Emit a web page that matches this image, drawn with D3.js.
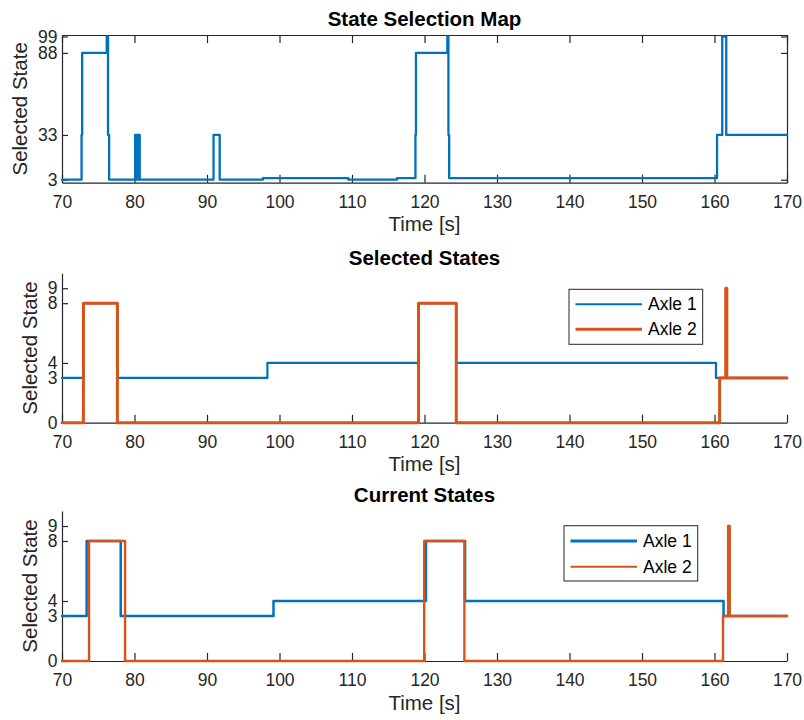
<!DOCTYPE html>
<html>
<head>
<meta charset="utf-8">
<script src="https://cdn.jsdelivr.net/npm/d3@7"></script>
<style>
  html, body { margin: 0; padding: 0; background: #fff; }
  svg { display: block; font-family: "Liberation Sans", Arial, Helvetica, sans-serif; }
</style>
</head>
<body>
<svg id="chart" width="804" height="720"></svg>
<script>
// Time axis shared by all panels
const timeDomain = [70, 170];
const timeTicks = [70, 80, 90, 100, 110, 120, 130, 140, 150, 160, 170];

// Panel 1: state selection map (step changes: time, state)
const mapTime  = [70, 72.7, 72.78, 76.17, 76.35, 76.5, 80.08, 80.2, 80.3, 80.45, 80.55, 80.72, 90.9, 91.75,
                  97.7, 109.5, 116.2, 118.75, 118.82, 123.15, 123.3, 123.4, 160.35, 161.07, 161.62, 170];
const mapState = [3, 33, 88, 99, 33, 3, 33, 3, 33, 3, 33, 3, 33, 3,
                  4, 3, 4, 33, 88, 99, 33, 4, 33, 99, 33, 33];
const mapTicks = [3, 33, 88, 99];

// Panel 2: selected states per axle
const selAxle1Time  = [70, 72.95, 77.64, 98.33, 119.18, 124.38, 160.2, 170];
const selAxle1State = [3, 8, 3, 4, 8, 4, 3, 3];
const selAxle2Time  = [70, 72.95, 77.64, 119.18, 124.38, 160.7, 161.55, 161.6, 161.65, 161.7, 170];
const selAxle2State = [0, 8, 0, 8, 0, 3, 9, 3, 9, 3, 3];

// Panel 3: current states per axle
const curAxle1Time  = [70, 73.4, 78.1, 99.17, 120.2, 125.6, 161.25, 170];
const curAxle1State = [3, 8, 3, 4, 8, 4, 3, 3];
const curAxle2Time  = [70, 73.73, 78.7, 119.96, 125.5, 161.17, 161.88, 161.95, 162.02, 162.1, 170];
const curAxle2State = [0, 8, 0, 8, 0, 3, 9, 3, 9, 3, 3];
const axleTicks = [0, 3, 4, 8, 9];

const legendLabels = ["Axle 1", "Axle 2"];
const titles = ["State Selection Map", "Selected States", "Current States"];
const xLabel = "Time [s]";
const yLabel = "Selected State";

const BLUE = "#0072BD", ORANGE = "#D95319", AXIS = "#262626";
const TICK_FONT = 17.5, LABEL_FONT = 20.5;

const svg = d3.select("#chart");
const xRange = [62, 787];

function zip(ts, vs) { return ts.map((t, i) => [t, vs[i]]); }

function panel(cfg) {
  const x = d3.scaleLinear().domain(timeDomain).range(xRange);
  const y = d3.scaleLinear().domain(cfg.yDomain).range([cfg.bottom, cfg.top]);
  const g = svg.append("g");

  // bottom axis, ticks pointing inward
  const xa = g.append("g").attr("transform", `translate(0,${cfg.bottom})`)
    .call(d3.axisBottom(x).tickValues(timeTicks).tickSize(-8).tickSizeOuter(0).tickPadding(12.5));
  // left axis
  const ya = g.append("g").attr("transform", `translate(${xRange[0]},0)`)
    .call(d3.axisLeft(y).tickValues(cfg.yTicks).tickSize(-6).tickSizeOuter(0).tickPadding(4.5));
  [xa, ya].forEach(a => {
    a.selectAll("path.domain").attr("stroke", AXIS).attr("stroke-width", 1.2);
    a.selectAll(".tick line").attr("stroke", AXIS).attr("stroke-width", 1.2);
    a.selectAll(".tick text").attr("fill", AXIS).style("font-size", TICK_FONT + "px").style("font-family", "inherit");
  });

  // boxed panel: mirrored top and right axes without labels
  if (cfg.box) {
    const ta = g.append("g").attr("transform", `translate(0,${cfg.top})`)
      .call(d3.axisTop(x).tickValues(timeTicks).tickSize(-8).tickSizeOuter(0).tickFormat(""));
    const ra = g.append("g").attr("transform", `translate(${xRange[1]},0)`)
      .call(d3.axisRight(y).tickValues(cfg.yTicks).tickSize(-6).tickSizeOuter(0).tickFormat(""));
    [ta, ra].forEach(a => {
      a.selectAll("path.domain").attr("stroke", AXIS).attr("stroke-width", 1.2);
      a.selectAll(".tick line").attr("stroke", AXIS).attr("stroke-width", 1.2);
    });
  }

  const line = d3.line().x(d => x(d[0])).y(d => y(d[1])).curve(d3.curveStepAfter);
  cfg.series.forEach(s => {
    g.append("path").datum(zip(s.t, s.v))
      .attr("d", line).attr("fill", "none")
      .attr("stroke", s.color).attr("stroke-width", s.width)
      .attr("stroke-linejoin", "round").attr("stroke-linecap", "round");
  });

  // title
  g.append("text").attr("x", (xRange[0] + xRange[1]) / 2).attr("y", cfg.titleY)
    .attr("text-anchor", "middle").attr("font-weight", "bold")
    .style("font-size", LABEL_FONT + "px").attr("fill", "#000").text(cfg.title);
  // x label
  g.append("text").attr("x", (xRange[0] + xRange[1]) / 2).attr("y", cfg.bottom + 48.5)
    .attr("text-anchor", "middle").style("font-size", LABEL_FONT + "px").attr("fill", AXIS).text(xLabel);
  // y label
  const cy = (cfg.top + cfg.bottom) / 2;
  g.append("text").attr("transform", `translate(${cfg.yLabelX},${cy}) rotate(-90)`)
    .attr("text-anchor", "middle").attr("dy", "0.35em")
    .style("font-size", LABEL_FONT + "px").attr("fill", AXIS).text(yLabel);

  if (cfg.legend) {
    const L = cfg.legend;
    const lg = g.append("g");
    lg.append("rect").attr("x", L.x).attr("y", L.y).attr("width", L.w).attr("height", L.h)
      .attr("fill", "#fff").attr("stroke", AXIS).attr("stroke-width", 1);
    cfg.series.forEach((s, i) => {
      const ry = L.y + L.row0 + i * L.rowGap;
      lg.append("line").attr("x1", L.x + 6.5).attr("x2", L.x + 73).attr("y1", ry).attr("y2", ry)
        .attr("stroke", s.color).attr("stroke-width", L.widths[i]);
      lg.append("text").attr("x", L.x + 79).attr("y", ry).attr("dy", "0.35em")
        .style("font-size", TICK_FONT + "px").attr("fill", "#000").text(legendLabels[i]);
    });
  }
}

panel({
  top: 35, bottom: 182.7, yDomain: [1, 100], yTicks: mapTicks, box: true,
  title: titles[0], titleY: 26, yLabelX: 20,
  series: [{ t: mapTime, v: mapState, color: BLUE, width: 2.3 }]
});

panel({
  top: 273.3, bottom: 422.7, yDomain: [0, 10], yTicks: axleTicks, box: false,
  title: titles[1], titleY: 265, yLabelX: 30,
  series: [
    { t: selAxle1Time, v: selAxle1State, color: BLUE, width: 2.2 },
    { t: selAxle2Time, v: selAxle2State, color: ORANGE, width: 3 }
  ],
  legend: { x: 569, y: 289.3, w: 133.7, h: 55, row0: 15, rowGap: 25, widths: [2, 3] }
});

panel({
  top: 511, bottom: 661, yDomain: [0, 10], yTicks: axleTicks, box: false,
  title: titles[2], titleY: 502, yLabelX: 30,
  series: [
    { t: curAxle1Time, v: curAxle1State, color: BLUE, width: 2.5 },
    { t: curAxle2Time, v: curAxle2State, color: ORANGE, width: 2.4 }
  ],
  legend: { x: 564, y: 525.7, w: 133.7, h: 55.3, row0: 15.3, rowGap: 25.7, widths: [3, 2] }
});
</script>
</body>
</html>
